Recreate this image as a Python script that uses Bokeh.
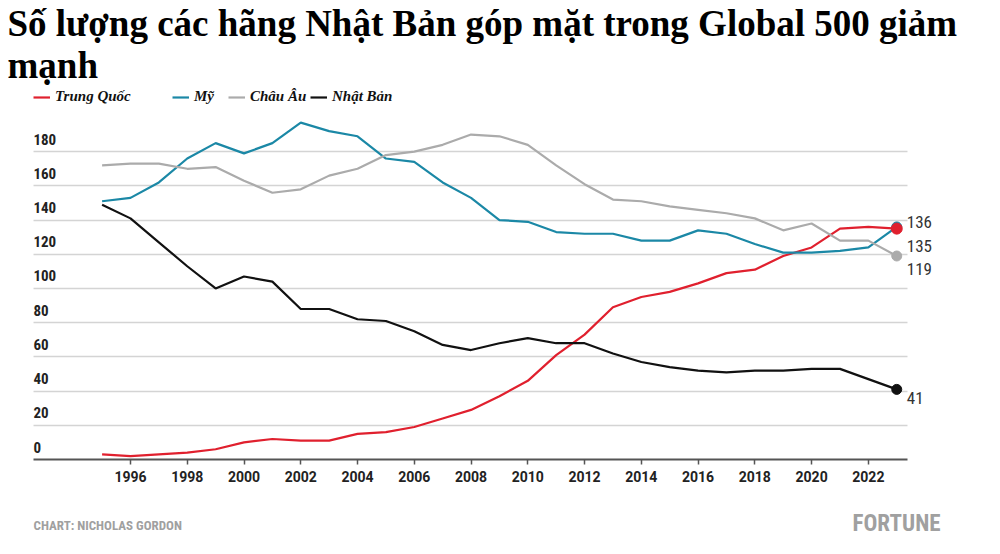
from bokeh.plotting import figure
from bokeh.layouts import column
from bokeh.models import Label, FixedTicker, Range1d, Legend, LegendItem, ColumnDataSource
from bokeh.core.properties import value
from bokeh.embed import file_html
from bokeh.resources import INLINE

# ---- data ----
years = list(range(1995, 2024))
china = [3, 2, 3, 4, 6, 10, 12, 11, 11, 15, 16, 19, 24, 29, 37, 46, 61, 73, 89, 95,
         98, 103, 109, 111, 119, 124, 135, 136, 135]
usa = [151, 153, 162, 176, 185, 179, 185, 197, 192, 189, 176, 174, 162, 153, 140, 139,
       133, 132, 132, 128, 128, 134, 132, 126, 121, 121, 122, 124, 136]
europe = [172, 173, 173, 170, 171, 163, 156, 158, 166, 170, 178, 180, 184, 190, 189, 184,
          172, 161, 152, 151, 148, 146, 144, 141, 134, 138, 128, 128, 119]
japan = [149, 141, 127, 113, 100, 107, 104, 88, 88, 82, 81, 75, 67, 64, 68, 71, 68, 68,
         62, 57, 54, 52, 51, 52, 52, 53, 53, 47, 41]

series_names = ["Trung Quốc", "Mỹ", "Châu Âu", "Nhật Bản"]
end_labels = ["135", "136", "119", "41"]
y_ticks = [0, 20, 40, 60, 80, 100, 120, 140, 160, 180]
x_ticks = list(range(1996, 2023, 2))

title_line1 = "Số lượng các hãng Nhật Bản góp mặt trong Global 500 giảm"
title_line2 = "mạnh"
credit = "CHART: NICHOLAS GORDON"
brand = "FORTUNE"

# ---- styles ----
colors = ["#e0202e", "#1b88a6", "#ababab", "#111111"]
end_offsets = [17, -5, 13, 9]
dot_sizes = [11, 10, 10, 10]
narrow = "'Liberation Sans Narrow', 'Roboto Condensed', Roboto, sans-serif"

px_per_year = 28.38
x_start = 1995 - 101.6 / px_per_year
x_end = x_start + 1000 / px_per_year
axis_lo, axis_hi = 1992.58, 2023.37

p = figure(width=1000, height=499, output_backend="svg", toolbar_location=None,
           x_range=Range1d(x_start, x_end), y_range=Range1d(0, 268.4),
           min_border_left=0, min_border_right=0, min_border_top=0,
           min_border_bottom=40)
p.outline_line_color = None
p.background_fill_color = "white"
p.border_fill_color = "white"

# grid
p.yaxis.visible = False
p.xgrid.visible = False
p.ygrid.ticker = FixedTicker(ticks=y_ticks[1:])
p.ygrid.cross_bounds = (axis_lo, axis_hi)
p.ygrid.grid_line_color = "#d4d4d4"
p.ygrid.grid_line_width = 1.5

# x axis
p.xaxis.ticker = FixedTicker(ticks=x_ticks)
p.xaxis.bounds = (axis_lo, axis_hi)
p.xaxis.axis_line_color = "#555555"
p.xaxis.axis_line_width = 2
p.xaxis.major_tick_line_color = "#555555"
p.xaxis.major_tick_line_width = 1.5
p.xaxis.major_tick_in = 0
p.xaxis.major_tick_out = 5
p.xaxis.minor_tick_line_color = None
p.xaxis.major_label_text_font = "Roboto"
p.xaxis.major_label_text_font_style = "bold"
p.xaxis.major_label_text_font_size = "14px"
p.xaxis.major_label_text_color = "#222222"
p.xaxis.major_label_standoff = 6

# y tick labels drawn inside the frame, above each gridline
ysrc = ColumnDataSource(dict(x=[axis_lo] * len(y_ticks), y=y_ticks, t=[str(v) for v in y_ticks]))
p.text(x="x", y="y", text="t", source=ysrc, text_font=value(narrow),
       text_font_style="bold", text_font_size="15px", text_color="#222222",
       text_baseline="bottom", text_align="left", y_offset=-7)

# series
all_series = [china, usa, europe, japan]
renderers = []
for name, ys, c in zip(series_names, all_series, colors):
    r = p.line(years, ys, line_color=c, line_width=2.2)
    renderers.append(r)

# end dots & labels (red on top)
for idx in [1, 2, 3, 0]:
    ys = all_series[idx]
    p.scatter([years[-1]], [ys[-1]], size=dot_sizes[idx], color=colors[idx])
for idx in range(4):
    ys = all_series[idx]
    p.text(x=[years[-1]], y=[ys[-1]], text=[end_labels[idx]], x_offset=10,
           y_offset=end_offsets[idx], text_font=value(narrow), text_font_size="17px",
           text_color="#333333", text_baseline="middle", text_align="left")

# legends: one per item to match spacing
leg_x = [33, 172, 228, 310]
for name, r, lx in zip(series_names, renderers, leg_x):
    lg = Legend(items=[LegendItem(label=name, renderers=[r])], location=(lx, 354),
                orientation="horizontal", padding=0, margin=0, spacing=0,
                glyph_width=17, glyph_height=16, label_height=16, label_standoff=5,
                label_text_font="Liberation Serif", label_text_font_style="bold italic",
                label_text_font_size="15px", label_text_color="#111111",
                background_fill_alpha=0, border_line_color=None)
    p.add_layout(lg)

# title
for txt, yy in [(title_line1, 436), (title_line2, 394)]:
    p.add_layout(Label(x=7, y=yy, x_units="screen", y_units="screen", text=txt,
                       text_font="Liberation Serif", text_font_style="bold",
                       text_font_size="37px", text_color="#000000",
                       text_baseline="alphabetic"))

# footer strip
f = figure(width=1000, height=55, output_backend="svg", toolbar_location=None,
           x_range=Range1d(0, 1000), y_range=Range1d(0, 55),
           min_border_left=0, min_border_right=0, min_border_top=0, min_border_bottom=0)
f.outline_line_color = None
f.axis.visible = False
f.grid.visible = False
f.add_layout(Label(x=33, y=29, x_units="screen", y_units="screen", text=credit,
                   text_font=narrow, text_font_style="bold", text_font_size="13px",
                   text_color="#a0a0a0", text_baseline="alphabetic"))
f.add_layout(Label(x=940, y=31, x_units="screen", y_units="screen", text=brand,
                   text_font=narrow, text_font_style="bold", text_font_size="23px",
                   text_color="#a0a0a0", text_baseline="alphabetic", text_align="right"))

layout = column(p, f, spacing=0)
open("out.html", "w").write(file_html(layout, INLINE))
